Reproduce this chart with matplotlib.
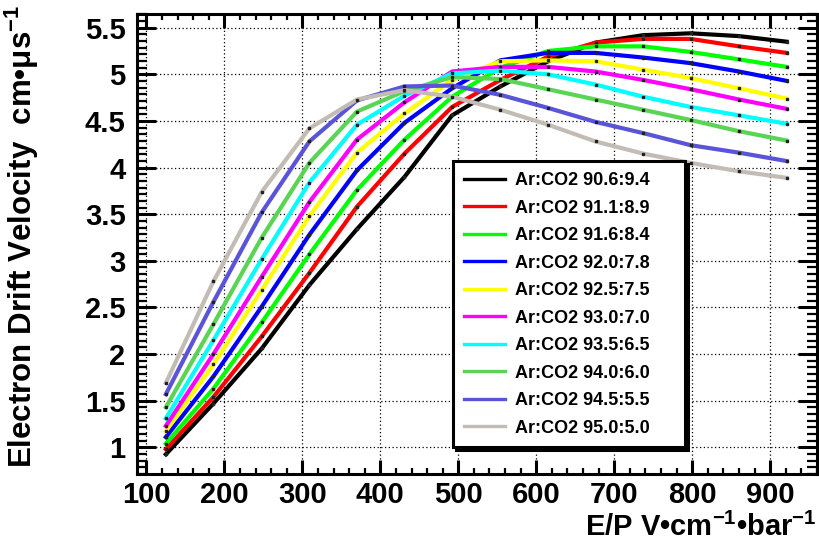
import matplotlib
matplotlib.use('Agg')
import matplotlib.pyplot as plt
from matplotlib.ticker import MultipleLocator
from matplotlib.lines import Line2D

plt.rcParams['font.family'] = ['Liberation Sans', 'DejaVu Sans']
plt.rcParams['font.weight'] = 'bold'
plt.rcParams['mathtext.fontset'] = 'custom'
plt.rcParams['mathtext.bf'] = 'Liberation Sans:bold'
plt.rcParams['mathtext.rm'] = 'Liberation Sans:bold'
plt.rcParams['mathtext.default'] = 'bf'

# E/P values (V/cm/bar)
ep = [125, 186, 248, 309, 370, 431, 492, 554, 615, 676, 737, 798, 860, 921]

# drift velocity (cm/us) per gas mixture
v_906 = [0.925, 1.47, 2.06, 2.74, 3.34, 3.90, 4.56, 4.87, 5.14, 5.34, 5.42, 5.44, 5.41, 5.35]
v_911 = [0.98, 1.54, 2.19, 2.87, 3.58, 4.15, 4.65, 4.94, 5.19, 5.34, 5.38, 5.38, 5.30, 5.23]
v_916 = [1.04, 1.63, 2.34, 3.07, 3.76, 4.30, 4.76, 5.07, 5.25, 5.30, 5.30, 5.24, 5.16, 5.08]
v_920 = [1.11, 1.76, 2.51, 3.28, 3.97, 4.48, 4.85, 5.15, 5.23, 5.23, 5.18, 5.12, 5.03, 4.93]
v_925 = [1.175, 1.89, 2.69, 3.48, 4.16, 4.58, 4.94, 5.14, 5.15, 5.14, 5.05, 4.96, 4.85, 4.74]
v_930 = [1.23, 2.00, 2.83, 3.63, 4.30, 4.70, 5.03, 5.08, 5.08, 5.03, 4.94, 4.84, 4.73, 4.63]
v_935 = [1.31, 2.15, 3.02, 3.84, 4.46, 4.77, 5.01, 5.04, 5.00, 4.89, 4.76, 4.65, 4.56, 4.47]
v_940 = [1.43, 2.32, 3.25, 4.05, 4.60, 4.82, 4.97, 4.95, 4.84, 4.73, 4.62, 4.51, 4.39, 4.29]
v_945 = [1.57, 2.56, 3.52, 4.28, 4.72, 4.87, 4.88, 4.78, 4.64, 4.49, 4.37, 4.24, 4.16, 4.07]
v_950 = [1.69, 2.78, 3.74, 4.42, 4.73, 4.83, 4.76, 4.62, 4.46, 4.28, 4.15, 4.05, 3.96, 3.89]

labels = ['Ar:CO2 90.6:9.4', 'Ar:CO2 91.1:8.9', 'Ar:CO2 91.6:8.4', 'Ar:CO2 92.0:7.8',
          'Ar:CO2 92.5:7.5', 'Ar:CO2 93.0:7.0', 'Ar:CO2 93.5:6.5', 'Ar:CO2 94.0:6.0',
          'Ar:CO2 94.5:5.5', 'Ar:CO2 95.0:5.0']
series = [v_906, v_911, v_916, v_920, v_925, v_930, v_935, v_940, v_945, v_950]
colors = ['#000000', '#ff0000', '#00ff00', '#0000ff', '#ffff00', '#ff00ff',
          '#00ffff', '#59d454', '#5954d8', '#c2bcb4']

W, H = 819, 552
fig = plt.figure(figsize=(W / 100, H / 100), dpi=100)
ax = fig.add_axes([136.7 / W, 1 - 474 / H, (817 - 136.7) / W, (474 - 14) / H])

for y, c in zip(series, colors):
    ax.plot(ep, y, color=c, lw=3.0, marker='s', markersize=1.5,
            markerfacecolor='#222222', markeredgecolor='#222222', solid_joinstyle='round')

ax.set_xlim(87.6, 960)
ax.set_ylim(0.714, 5.647)

ax.xaxis.set_major_locator(MultipleLocator(100))
ax.xaxis.set_minor_locator(MultipleLocator(20))
ax.yaxis.set_major_locator(MultipleLocator(0.5))
ax.yaxis.set_minor_locator(MultipleLocator(0.5 / 7))

ax.grid(True, which='major', color='black', linestyle=(0, (1, 2)), linewidth=0.9)

ax.tick_params(axis='x', which='major', direction='in', length=10, width=2.2,
               top=True, bottom=True, labelsize=21, pad=5)
ax.tick_params(axis='x', which='minor', direction='in', length=4.5, width=1.6,
               top=True, bottom=True)
ax.tick_params(axis='y', which='major', direction='in', length=14, width=2.2,
               left=True, right=True, labelsize=21, pad=8)
ax.tick_params(axis='y', which='minor', direction='in', length=7, width=1.6,
               left=True, right=True)

def fmt(v, pos):
    return ('%g' % v)
ax.xaxis.set_major_formatter(plt.FuncFormatter(fmt))
ax.yaxis.set_major_formatter(plt.FuncFormatter(fmt))
for t in ax.get_xticklabels() + ax.get_yticklabels():
    t.set_fontweight('bold')

for s in ax.spines.values():
    s.set_linewidth(2.2)

fig.text(22 / W, 1 - 5 / H, r'Electron Drift Velocity  cm•μs$^{-1}$',
         rotation=90, ha='center', va='top', fontsize=22.5, fontweight='bold')
fig.text(817 / W, 1 - 527 / H, r'E/P V•cm$^{-1}$•bar$^{-1}$',
         ha='right', va='center', fontsize=21, fontweight='bold')

handles = [Line2D([], [], color=c, lw=2.4) for c in colors]
leg = ax.legend(handles, labels, loc='upper left',
                bbox_to_anchor=(453 / W, 1 - 167 / H, (685 - 453) / W, 0.01),
                bbox_transform=fig.transFigure, mode='expand', borderaxespad=0,
                fontsize=13, labelspacing=0.58, handlelength=2.3, handletextpad=0.55,
                borderpad=0.6, fancybox=False, framealpha=1, edgecolor='black',
                shadow={'color': 'black', 'alpha': 1})
leg.get_frame().set_linewidth(2.2)
for t in leg.get_texts():
    t.set_fontweight('bold')

fig.savefig('out.png', dpi=100)
